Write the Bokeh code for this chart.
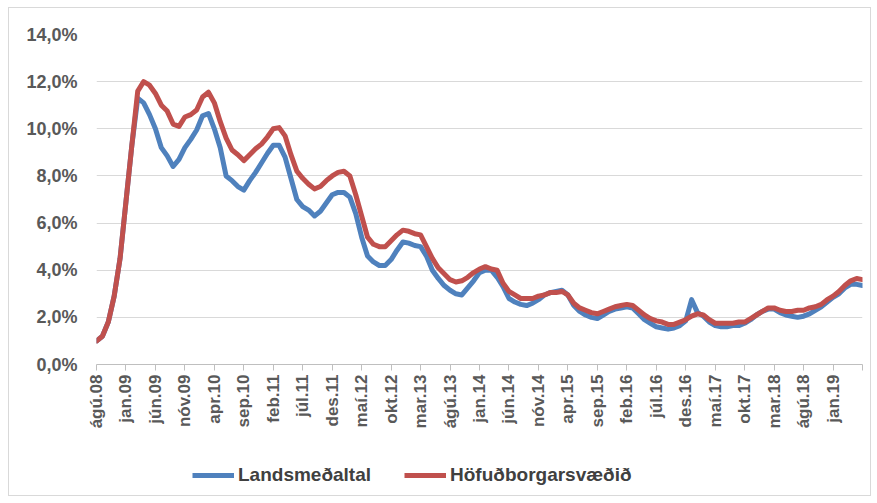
import numpy as np
from bokeh.plotting import figure
from bokeh.layouts import column
from bokeh.models import Range1d, FixedTicker, CustomJSTickFormatter, Legend, LegendItem, ColumnDataSource
from bokeh.embed import file_html
from bokeh.resources import INLINE

# Monthly index from ágú.08 (0) to jún.19 (130)
tick_labels = ["ágú.08", "jan.09", "jún.09", "nóv.09", "apr.10", "sep.10", "feb.11", "júl.11",
               "des.11", "maí.12", "okt.12", "mar.13", "ágú.13", "jan.14", "jún.14", "nóv.14",
               "apr.15", "sep.15", "feb.16", "júl.16", "des.16", "maí.17", "okt.17", "mar.18",
               "ágú.18", "jan.19", ""]

landsmedaltal = [
    1.0, 1.2, 1.8, 2.9, 4.5, 6.9, 9.3, 11.3, 11.1, 10.6,
    10.0, 9.2, 8.85, 8.4, 8.7, 9.2, 9.55, 9.95, 10.55, 10.65,
    10.0, 9.2, 8.0, 7.8, 7.55, 7.4, 7.8, 8.15, 8.55, 8.95,
    9.3, 9.3, 8.8, 7.9, 7.0, 6.7, 6.55, 6.3, 6.5, 6.85,
    7.2, 7.3, 7.3, 7.1, 6.4, 5.4, 4.6, 4.35, 4.2, 4.2,
    4.45, 4.85, 5.2, 5.15, 5.05, 5.0, 4.6, 4.0, 3.65, 3.35,
    3.15, 3.0, 2.95, 3.25, 3.55, 3.9, 4.0, 4.0, 3.7, 3.3,
    2.8, 2.65, 2.55, 2.5, 2.6, 2.75, 2.95, 3.05, 3.1, 3.15,
    2.95, 2.5, 2.25, 2.1, 2.0, 1.95, 2.1, 2.25, 2.35, 2.4,
    2.45, 2.4, 2.15, 1.9, 1.75, 1.6, 1.55, 1.5, 1.55, 1.65,
    1.85, 2.75, 2.2, 2.05, 1.8, 1.65, 1.6, 1.6, 1.65, 1.65,
    1.75, 1.9, 2.1, 2.25, 2.35, 2.35, 2.2, 2.1, 2.05, 2.0,
    2.05, 2.15, 2.3, 2.45, 2.65, 2.85, 3.0, 3.25, 3.4, 3.4, 3.35,
]

hofudborgarsvaedid = [
    1.0, 1.2, 1.8, 2.9, 4.5, 6.9, 9.3, 11.6, 12.0, 11.85,
    11.5, 11.0, 10.75, 10.2, 10.1, 10.5, 10.6, 10.8, 11.35, 11.55,
    11.1, 10.3, 9.6, 9.1, 8.9, 8.65, 8.9, 9.15, 9.35, 9.65,
    10.0, 10.05, 9.7, 8.9, 8.2, 7.9, 7.65, 7.45, 7.55, 7.8,
    8.0, 8.15, 8.2, 8.0, 7.2, 6.3, 5.4, 5.1, 5.0, 5.0,
    5.25, 5.5, 5.7, 5.65, 5.55, 5.5, 5.0, 4.5, 4.1, 3.85,
    3.6, 3.5, 3.55, 3.7, 3.9, 4.05, 4.15, 4.05, 4.0, 3.45,
    3.1, 2.95, 2.8, 2.8, 2.8, 2.9, 2.95, 3.05, 3.05, 3.1,
    2.95, 2.6, 2.4, 2.3, 2.2, 2.15, 2.25, 2.35, 2.45, 2.5,
    2.55, 2.5, 2.3, 2.1, 1.95, 1.85, 1.8, 1.7, 1.7, 1.8,
    1.9, 2.05, 2.15, 2.1, 1.9, 1.75, 1.75, 1.75, 1.75, 1.8,
    1.8, 1.95, 2.1, 2.25, 2.4, 2.4, 2.3, 2.25, 2.25, 2.3,
    2.3, 2.4, 2.45, 2.55, 2.75, 2.9, 3.1, 3.35, 3.55, 3.65, 3.6,
]

series_names = ["Landsmeðaltal", "Höfuðborgarsvæðið"]
series_colors = ["#4F81BD", "#C0504D"]
series_cols = ["blue", "red"]
y_ticks = [0, 2, 4, 6, 8, 10, 12, 14]

month_index = list(range(len(landsmedaltal)))
tick_positions = list(range(0, len(landsmedaltal), 5))

source = ColumnDataSource(dict(x=month_index, blue=landsmedaltal, red=hofudborgarsvaedid))

# ---- main chart ----
p = figure(width=861, height=423, output_backend="svg", toolbar_location=None,
           x_range=Range1d(0, len(landsmedaltal) - 1), y_range=Range1d(0, 14),
           min_border_left=87, min_border_right=8, min_border_top=26, min_border_bottom=20)
p.outline_line_color = None
p.background_fill_color = "white"
p.border_fill_color = "white"

for col, c in zip(series_cols, series_colors):
    p.line("x", col, source=source, line_color=c, line_width=5,
           line_join="round", line_cap="round")

p.xgrid.grid_line_color = None
p.ygrid.grid_line_color = "#d9d9d9"
p.ygrid.grid_line_width = 1

p.yaxis.ticker = FixedTicker(ticks=y_ticks)
p.yaxis.formatter = CustomJSTickFormatter(code="return tick.toFixed(1).replace('.', ',') + '%';")
p.yaxis.axis_line_color = None
p.yaxis.major_tick_line_color = None
p.yaxis.minor_tick_line_color = None
p.yaxis.major_tick_out = 0
p.yaxis.major_label_standoff = 19
p.yaxis.major_label_text_font = "Liberation Sans"
p.yaxis.major_label_text_font_style = "bold"
p.yaxis.major_label_text_font_size = "18px"
p.yaxis.major_label_text_color = "#595959"

p.xaxis.ticker = FixedTicker(ticks=tick_positions)
p.xaxis.major_label_overrides = {t: lab for t, lab in zip(tick_positions, tick_labels)}
p.xaxis.major_label_orientation = np.pi / 2
p.xaxis.axis_line_color = "#bfbfbf"
p.xaxis.major_tick_line_color = "#bfbfbf"
p.xaxis.minor_tick_line_color = None
p.xaxis.major_tick_out = 6
p.xaxis.major_tick_in = 0
p.xaxis.major_label_standoff = 4
p.xaxis.major_label_text_font = "Liberation Sans"
p.xaxis.major_label_text_font_style = "bold"
p.xaxis.major_label_text_font_size = "17px"
p.xaxis.major_label_text_color = "#595959"

# ---- legend strip (series drawn out of view; only the legend shows) ----
lg = figure(width=861, height=64, output_backend="svg", toolbar_location=None,
            x_axis_type=None, y_axis_type=None,
            x_range=Range1d(0, len(landsmedaltal) - 1), y_range=Range1d(100, 101),
            min_border_left=0, min_border_right=0, min_border_top=0, min_border_bottom=0)
lg.outline_line_color = None
lg.xgrid.grid_line_color = None
lg.ygrid.grid_line_color = None
proxies = [lg.line("x", col, source=source, line_color=c, line_width=5)
           for col, c in zip(series_cols, series_colors)]

legend = Legend(items=[LegendItem(label=n, renderers=[r]) for n, r in zip(series_names, proxies)],
                orientation="horizontal", location=(96, 9))
legend.padding = 0
legend.margin = 0
legend.spacing = 33
legend.glyph_width = 42
legend.glyph_height = 20
legend.label_height = 20
legend.label_standoff = 4
legend.label_text_font = "Liberation Sans"
legend.label_text_font_style = "bold"
legend.label_text_font_size = "19px"
legend.label_text_color = "#404040"
legend.border_line_alpha = 0
legend.background_fill_alpha = 0
lg.add_layout(legend, "center")

layout = column(p, lg, spacing=0)
layout.styles = {"margin-left": "8px", "margin-top": "7px", "border": "1px solid #d9d9d9"}

open("out.html", "w").write(file_html(layout, INLINE))
